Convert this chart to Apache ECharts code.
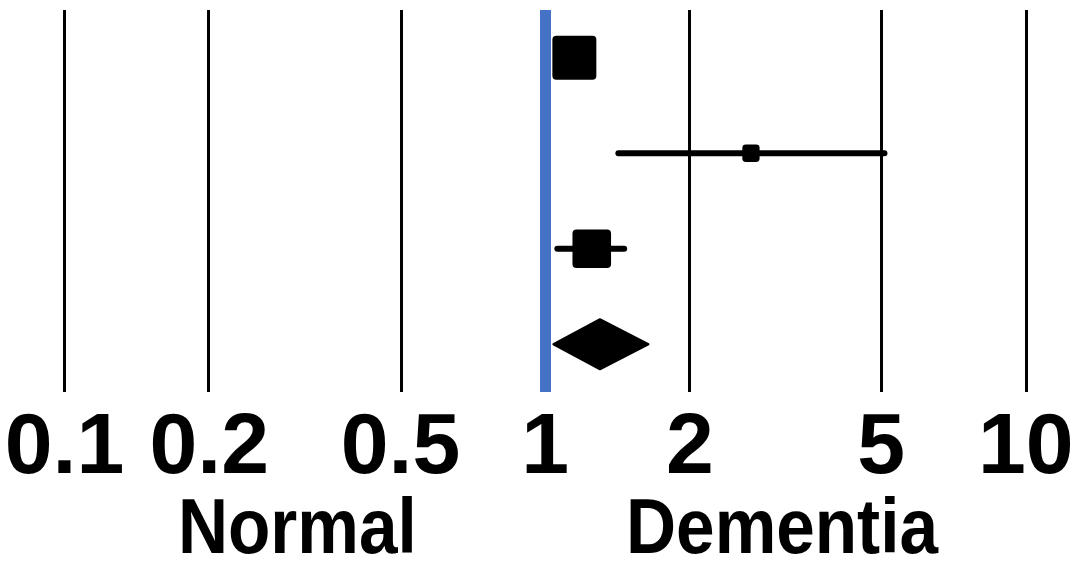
<!DOCTYPE html>
<html>
<head>
<meta charset="utf-8">
<script src="https://cdn.jsdelivr.net/npm/echarts@6/dist/echarts.min.js"></script>
<style>
  html, body { margin: 0; padding: 0; background: #fff; }
  #chart { width: 1090px; height: 562px; }
</style>
</head>
<body>
<div id="chart"></div>
<script>
// odds ratios (log scale)
const rows = ['Study 1', 'Study 2', 'Study 3', 'Pooled'];
const estimates = [1.15, 2.68, 1.25, 1.30];
const lowerCI = [1.11, 1.42, 1.06, 1.04];
const upperCI = [1.19, 5.08, 1.46, 1.64];
const weights = [52, 8, 40, 0];
const isSummary = [false, false, false, true];

const ticks = [0.1, 0.2, 0.5, 1, 2, 5, 10];
const tickLabels = ['0.1', '0.2', '0.5', '1', '2', '5', '10'];
const refValue = 1;
const xRange = [0.0734, 13.6];
const sideLabels = ['Normal', 'Dementia'];
const sidePositions = [0.305, 3.11]; // where the side captions sit on the ratio scale

const FONT = '"Liberation Sans", Arial, Helvetica, sans-serif';
const lg = v => Math.log10(v);

const chart = echarts.init(document.getElementById('chart'));

const forestData = rows.map((r, i) => [i, lg(estimates[i]), lg(lowerCI[i]), lg(upperCI[i]), weights[i], isSummary[i] ? 1 : 0]);

function renderItem(params, api) {
  const row = api.value(0);
  const est = api.coord([api.value(1), row]);
  const lo = api.coord([api.value(2), row]);
  const hi = api.coord([api.value(3), row]);
  const y = est[1];
  if (api.value(5)) {
    const h = 25;
    return {
      type: 'polygon',
      shape: { points: [[lo[0], y], [est[0], y - h], [hi[0], y], [est[0], y + h]] },
      style: { fill: '#000', stroke: '#000', lineWidth: 2, lineJoin: 'round' }
    };
  }
  const s = 6.1 * Math.sqrt(api.value(4));
  return {
    type: 'group',
    children: [
      {
        type: 'line',
        shape: { x1: lo[0], y1: y, x2: hi[0], y2: y },
        style: { stroke: '#000', lineWidth: 6, lineCap: 'round' }
      },
      {
        type: 'rect',
        shape: { x: est[0] - s / 2, y: y - s / 2, width: s, height: s, r: Math.min(4, s / 5) },
        style: { fill: '#000' }
      }
    ]
  };
}

const option = {
  animation: false,
  backgroundColor: '#fff',
  grid: { left: 0, right: 0, top: 10, bottom: 170 },
  xAxis: {
    type: 'value',
    min: lg(xRange[0]),
    max: lg(xRange[1]),
    axisLine: { show: false },
    axisTick: { show: false },
    splitLine: { show: false },
    axisLabel: {
      customValues: ticks.map(lg),
      formatter: (v) => {
        const i = ticks.findIndex(t => Math.abs(lg(t) - v) < 1e-6);
        return i >= 0 ? tickLabels[i] : '';
      },
      color: '#000',
      fontFamily: FONT,
      fontWeight: 'bold',
      fontSize: 86,
      margin: 14
    }
  },
  yAxis: {
    type: 'category',
    data: rows,
    inverse: true,
    show: false
  },
  series: [
    {
      type: 'line',
      data: [],
      silent: true,
      markLine: {
        silent: true,
        symbol: 'none',
        label: { show: false },
        lineStyle: { color: '#000', width: 3, type: 'solid' },
        data: ticks.filter(t => t !== refValue).map(t => ({ xAxis: lg(t) }))
      }
    },
    {
      type: 'line',
      data: [],
      silent: true,
      markLine: {
        silent: true,
        symbol: 'none',
        label: { show: false },
        lineStyle: { color: '#4472C4', width: 11, type: 'solid' },
        data: [{ xAxis: lg(refValue) }]
      }
    },
    {
      type: 'custom',
      renderItem: renderItem,
      encode: { x: [1, 2, 3], y: 0 },
      data: forestData,
      z: 5
    }
  ]
};

chart.setOption(option);

// side captions below the tick labels, placed through the x scale
chart.setOption({
  graphic: sideLabels.map((txt, i) => ({
    type: 'text',
    x: chart.convertToPixel({ xAxisIndex: 0 }, lg(sidePositions[i])),
    y: 532,
    scaleX: 0.9,
    style: {
      text: txt,
      fill: '#000',
      font: 'bold 77px ' + FONT,
      textAlign: 'center',
      textVerticalAlign: 'middle'
    }
  }))
});
</script>
</body>
</html>
